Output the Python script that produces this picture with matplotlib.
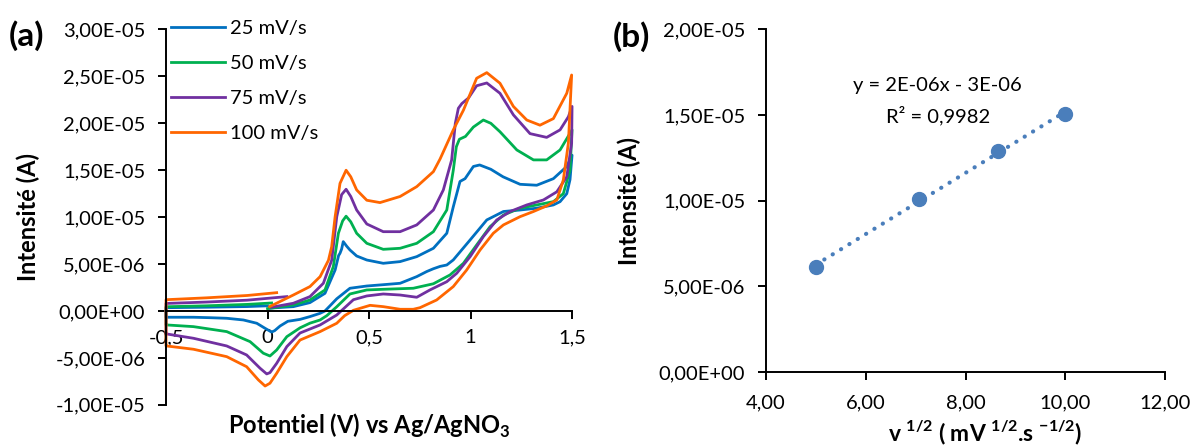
import numpy as np
import matplotlib.pyplot as plt
from matplotlib.ticker import FuncFormatter, MultipleLocator

plt.rcParams['font.family'] = ['Lato', 'DejaVu Sans']
plt.rcParams['mathtext.fontset'] = 'custom'
plt.rcParams['mathtext.rm'] = 'Lato'
plt.rcParams['mathtext.bf'] = 'Lato:bold'

# ---- panel (a): cyclic voltammograms, potential (V) and current (uA) along the scan
labels_a = ['25 mV/s', '50 mV/s', '75 mV/s', '100 mV/s']
colors_a = ['#0070C0', '#00B050', '#7030A0', '#FF6600']

v_25 = [0.01, 0.127, 0.209, 0.283, 0.333, 0.350, 0.357, 0.365, 0.373, 0.390,
        0.406, 0.439, 0.489, 0.570, 0.653, 0.735, 0.817, 0.883, 0.915, 0.948,
        0.973, 1.014, 1.045, 1.10, 1.16, 1.244, 1.326, 1.408, 1.474, 1.500,
        1.490, 1.474, 1.441, 1.408, 1.326, 1.244, 1.162, 1.080, 0.998, 0.915,
        0.883, 0.850, 0.817, 0.784, 0.735, 0.653, 0.570, 0.489, 0.406, 0.341,
        0.310, 0.283, 0.259, 0.209, 0.160, 0.100, 0.062, 0.035, 0.020, -0.012,
        -0.053, -0.119, -0.201, -0.280, -0.365, -0.497, -0.500,
        -0.500, -0.300, -0.100, 0.000]
i_25 = [0.30, 0.46, 0.89, 1.88, 4.37, 5.90, 6.15, 6.60, 7.39, 6.90,
        6.50, 5.86, 5.43, 5.08, 5.26, 5.79, 6.68, 8.28, 11.1, 13.8,
        14.1, 15.4, 15.56, 15.1, 14.3, 13.5, 13.4, 14.1, 15.4, 16.6,
        14.0, 12.5, 11.65, 11.3, 10.95, 10.76, 10.6, 9.7, 7.57, 5.44,
        4.9, 4.75, 4.5, 4.2, 3.66, 2.95, 2.8, 2.66, 2.42, 1.3,
        0.6, 0.0, -0.25, -0.6, -0.9, -1.1, -1.6, -2.1, -2.25, -1.85,
        -1.31, -0.96, -0.78, -0.72, -0.67, -0.67, -0.67,
        0.35, 0.40, 0.47, 0.55]

v_50 = [0.00, 0.127, 0.209, 0.283, 0.324, 0.349, 0.370, 0.387, 0.410, 0.439,
        0.489, 0.570, 0.653, 0.735, 0.817, 0.883, 0.915, 0.930, 0.945, 0.975,
        1.014, 1.063, 1.100, 1.145, 1.228, 1.310, 1.375, 1.441, 1.500,
        1.490, 1.457, 1.408, 1.326, 1.244, 1.162, 1.096, 1.030, 0.965, 0.899,
        0.817, 0.718, 0.570, 0.489, 0.406, 0.341, 0.292, 0.259, 0.209, 0.160,
        0.095, 0.045, 0.012, -0.021, -0.086, -0.201, -0.365, -0.497, -0.500,
        -0.500, -0.300, -0.100, 0.020]
i_50 = [0.25, 0.64, 1.17, 2.24, 4.72, 8.28, 9.6, 10.1, 9.5, 8.28,
        7.21, 6.57, 6.68, 7.21, 8.45, 10.76, 15.0, 17.5, 18.3, 18.6,
        19.6, 20.35, 20.0, 19.1, 17.16, 16.1, 16.1, 17.16, 19.3,
        15.0, 12.5, 11.65, 11.3, 10.95, 10.23, 8.98, 7.03, 5.08, 3.84,
        2.9, 2.42, 2.31, 2.24, 1.81, 0.45, -0.5, -0.96, -1.3, -1.8,
        -2.74, -4.16, -4.8, -4.5, -3.27, -2.2, -1.67, -1.49, -1.49,
        0.45, 0.55, 0.70, 0.85]

v_75 = [0.02, 0.127, 0.209, 0.275, 0.316, 0.341, 0.365, 0.387, 0.410, 0.439,
        0.489, 0.570, 0.653, 0.735, 0.817, 0.866, 0.907, 0.925, 0.940, 0.957,
        0.990, 1.030, 1.080, 1.145, 1.211, 1.293, 1.375, 1.441, 1.482, 1.500,
        1.498, 1.474, 1.425, 1.359, 1.277, 1.195, 1.129, 1.063, 0.998, 0.932,
        0.883, 0.800, 0.735, 0.653, 0.570, 0.489, 0.423, 0.341, 0.259, 0.160,
        0.095, 0.045, 0.012, -0.004, -0.037, -0.103, -0.201, -0.365, -0.497, -0.500,
        -0.500, -0.300, -0.100, 0.095]
i_75 = [0.40, 0.82, 1.53, 2.95, 5.4, 10.05, 12.4, 12.97, 12.2, 10.76,
        9.27, 8.45, 8.45, 9.17, 10.76, 12.9, 16.1, 20.0, 21.6, 22.1,
        22.7, 24.0, 24.3, 23.2, 20.9, 18.9, 18.5, 19.3, 20.7, 21.8,
        17.9, 14.3, 12.7, 11.83, 11.3, 10.6, 9.7, 7.92, 5.79, 4.02,
        3.12, 2.24, 1.46, 1.7, 1.81, 1.6, 1.2, -0.43, -1.49, -2.35,
        -3.8, -5.58, -6.57, -6.71, -6.1, -4.69, -3.73, -2.91, -2.45, -2.45,
        0.80, 0.95, 1.15, 1.53]

v_100 = [0.01, 0.127, 0.209, 0.259, 0.300, 0.316, 0.333, 0.357, 0.387, 0.410,
         0.439, 0.489, 0.554, 0.653, 0.735, 0.817, 0.850, 0.915, 0.965, 1.030,
         1.080, 1.145, 1.211, 1.277, 1.342, 1.408, 1.474, 1.498,
         1.482, 1.457, 1.425, 1.375, 1.310, 1.244, 1.162, 1.112, 1.047, 0.981,
         0.915, 0.833, 0.751, 0.718, 0.653, 0.570, 0.505, 0.423, 0.380, 0.341,
         0.259, 0.160, 0.095, 0.045, 0.012, -0.012, -0.045, -0.103, -0.201, -0.365,
         -0.497, -0.500,
         -0.500, -0.300, -0.100, 0.045]
i_100 = [0.46, 1.7, 2.6, 3.66, 5.4, 6.85, 10.05, 13.6, 15.0, 14.3,
         12.9, 11.8, 11.55, 12.2, 13.25, 14.85, 16.2, 19.3, 21.4, 24.8,
         25.4, 24.27, 21.8, 20.35, 19.8, 20.5, 23.2, 25.15,
         17.9, 13.96, 11.83, 11.2, 10.6, 10.05, 9.17, 8.28, 6.5, 4.37,
         2.6, 1.17, 0.35, 0.18, 0.18, 0.46, 0.6, 0.07, -0.5, -1.31,
         -2.2, -3.1, -4.87, -6.64, -7.7, -8.0, -7.35, -5.94, -4.87, -4.08,
         -3.73, -3.73,
         1.20, 1.40, 1.65, 1.95]

# ---- panel (b): peak current vs square root of scan rate
sqrt_v = [5.00, 7.07, 8.66, 10.00]
peak_i = [6.15e-6, 1.012e-5, 1.292e-5, 1.505e-5]

sci_fmt = FuncFormatter(lambda v, p: f"{v:.2E}".replace('.', ','))

fig = plt.figure(figsize=(11.97, 4.46), dpi=100)

# ---------- (a)
ax1 = fig.add_axes([0.1387, 0.0924, 0.3392, 0.8415])
curves = [(v_25, i_25), (v_50, i_50), (v_75, i_75), (v_100, i_100)]
for (v, i), lab, col in zip(curves, labels_a, colors_a):
    ax1.plot(v, np.array(i) * 1e-6, color=col, lw=2.0, label=lab,
             solid_joinstyle='round', clip_on=False)

ax1.set_xlim(-0.5, 1.5)
ax1.set_ylim(-1e-5, 3e-5)
ax1.xaxis.set_major_locator(MultipleLocator(0.5))
ax1.yaxis.set_major_locator(MultipleLocator(5e-6))
ax1.xaxis.set_major_formatter(FuncFormatter(lambda v, p: ('%g' % round(v, 2)).replace('.', ',')))
ax1.yaxis.set_major_formatter(sci_fmt)
ax1.spines['bottom'].set_position(('data', 0))
ax1.spines['top'].set_visible(False)
ax1.spines['right'].set_visible(False)
for s in ['left', 'bottom']:
    ax1.spines[s].set_linewidth(1.4)
ax1.tick_params(axis='both', direction='out', length=6, width=1.4, labelsize=14.5)
ax1.tick_params(axis='x', pad=7)
ax1.tick_params(axis='y', pad=9)
ax1.set_ylabel('Intensité (A)', fontsize=17, fontweight='bold')
ax1.yaxis.set_label_coords(-0.31, 0.5)
ax1.set_xlabel(r'Potentiel (V) vs Ag/AgNO$_{\mathbf{3}}$', fontsize=17, fontweight='bold')
ax1.xaxis.set_label_coords(0.5, -0.02)

ax1.legend(loc='upper left', bbox_to_anchor=(0.013, 1.026), frameon=False,
           fontsize=14.5, handlelength=2.65, handletextpad=0.25, labelspacing=0.9,
           borderaxespad=0, borderpad=0)

fig.text(0.0075, 0.921, '(a)', fontsize=24, fontweight='bold', ha='left', va='center')

# ---------- (b)
ax2 = fig.add_axes([0.640, 0.1659, 0.3333, 0.768])
fit = np.polyfit(sqrt_v, peak_i, 1)
xs = np.array([min(sqrt_v), max(sqrt_v)])
ax2.plot(xs, np.polyval(fit, xs), linestyle=(0, (0.05, 2.3)), color='#4A7EBB',
         lw=3.0, dash_capstyle='round')
ax2.plot(sqrt_v, peak_i, 'o', color='#4A7EBB', markersize=10, zorder=3)

ax2.set_xlim(4, 12)
ax2.set_ylim(0, 2e-5)
ax2.xaxis.set_major_locator(MultipleLocator(2))
ax2.yaxis.set_major_locator(MultipleLocator(5e-6))
ax2.xaxis.set_major_formatter(FuncFormatter(lambda v, p: f"{v:.2f}".replace('.', ',')))
ax2.yaxis.set_major_formatter(sci_fmt)
ax2.spines['top'].set_visible(False)
ax2.spines['right'].set_visible(False)
for s in ['left', 'bottom']:
    ax2.spines[s].set_linewidth(1.4)
ax2.tick_params(axis='both', direction='out', length=6, width=1.4, labelsize=14.5)
ax2.tick_params(axis='x', pad=10)
ax2.tick_params(axis='y', pad=9)
ax2.set_ylabel('Intensité (A)', fontsize=17, fontweight='bold')
ax2.yaxis.set_label_coords(-0.313, 0.5)
ax2.set_xlabel(r'v $^{\mathbf{1/2}}$ ( mV $^{\mathbf{1/2}}$.s $^{\mathbf{-1/2}}$)',
               fontsize=16.5, fontweight='bold')
ax2.xaxis.set_label_coords(0.549, -0.135)

ax2.text(0.43, 0.835, 'y = 2E-06x - 3E-06', transform=ax2.transAxes,
         fontsize=14.5, ha='center', va='center')
ax2.text(0.43, 0.75, 'R² = 0,9982', transform=ax2.transAxes,
         fontsize=14.5, ha='center', va='center')

fig.text(0.512, 0.917, '(b)', fontsize=24, fontweight='bold', ha='left', va='center')

fig.savefig('out.png', dpi=100)
